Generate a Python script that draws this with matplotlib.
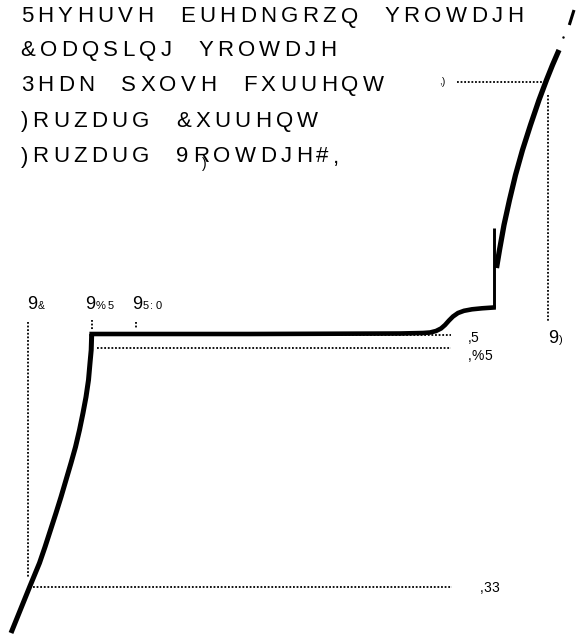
import matplotlib
matplotlib.use('Agg')
import matplotlib.pyplot as plt
from matplotlib.font_manager import FontProperties

# legend lines (text as it appears in the figure)
legend_lines = ['5HYHUVH EUHDNGRZQ YROWDJH',
                '&ODQSLQJ YROWDJH',
                '3HDN SXOVH FXUUHQW',
                ')RUZDUG &XUUHQW',
                ')RUZDUG 9ROWDJH#,']

# I-V curve, drawing units (x = voltage, y = current, y grows downward)
reverse_v = [91.7, 91.2, 90, 88.5, 86, 83, 79.5, 75.5, 71, 66, 61, 56, 50.5, 45, 39.5, 30, 11]
reverse_i = [334, 350, 363, 380, 397, 413, 430, 447, 463, 480, 497, 513, 530, 547, 563, 586, 633]
leak_v = [91.7, 250, 400, 423, 430, 436, 441, 445, 449, 453, 458, 464, 472, 482, 493.5]
leak_i = [334, 334, 333.5, 333, 332.5, 331, 328.5, 325, 320.5, 316.5, 313, 310.8, 309.3, 308.3, 307.5]
knee_v = [493.5, 493.5]
knee_i = [307.5, 228]
fwd_v = [496.5, 499.5, 504, 509.5, 515.5, 522.5, 530.5, 539, 546.5, 552.5, 559]
fwd_i = [268, 250, 225, 200, 175, 150, 125, 100, 80, 65, 50]
tip_v = [569.3, 574]
tip_i = [25, 10]

# reference levels
v_c, v_br, v_rwm, v_f = 27.7, 91.7, 136, 547.5
i_pp, i_br, i_r, i_f = 586.5, 347.5, 334.5, 81.7

W, H = 577, 636
fig = plt.figure(figsize=(W / 100, H / 100), dpi=100)
ax = fig.add_axes([0, 0, 1, 1])
ax.set_xlim(0, W)
ax.set_ylim(H, 0)
ax.axis('off')

renderer = fig.canvas.get_renderer()


def width(s, prop):
    if not s:
        return 0
    w1 = renderer.get_text_width_height_descent(s + 'I', prop, ismath=False)[0]
    w0 = renderer.get_text_width_height_descent('I', prop, ismath=False)[0]
    return w1 - w0


def tracked(x, y, s, size, track, space_extra=0):
    prop = FontProperties(family='Liberation Sans', size=size)
    nsp = 0
    for k, ch in enumerate(s):
        if ch == ' ':
            nsp += 1
            continue
        ax.text(x + width(s[:k], prop) + k * track + nsp * space_extra, y, ch,
                fontproperties=prop, ha='left', va='baseline', color='black')
    return x + width(s, prop) + len(s) * track + nsp * space_extra


def symbol(x, y, main, sub, size=13, sub_size=8, sub_track=2.0):
    end = tracked(x, y, main, size, 0)
    tracked(end + 0.5, y, sub, sub_size, sub_track)


baselines = [22.5, 56, 91, 127, 162.5]
for s, yb in zip(legend_lines, baselines):
    tracked(20.7, yb, s, 16, 4.3, 12)
ax.text(204, 164, ')', fontsize=10, family='Liberation Sans', ha='center', va='center')

# curve
ax.plot(reverse_v, reverse_i, color='black', lw=3.6, solid_capstyle='butt')
ax.plot(leak_v, leak_i, color='black', lw=3.3, solid_joinstyle='miter')
ax.plot(knee_v, knee_i, color='black', lw=2.1, solid_capstyle='butt')
ax.plot(fwd_v, fwd_i, color='black', lw=3.8, solid_capstyle='butt')
ax.plot(tip_v, tip_i, color='black', lw=2.2, solid_capstyle='butt')
ax.plot([563], [36.5], marker='.', ms=1.5, color='black')

# dotted guides
dot = dict(color='black', lw=1.3, ls=(0, (1, 1)))
ax.plot([v_c, v_c], [322, 578], **dot)
ax.plot([33, 452], [i_pp, i_pp], **dot)
ax.plot([v_br, v_br], [320, 330], **dot)
ax.plot([v_rwm, v_rwm], [321.7, 329], **dot)
ax.plot([92, 451], [i_r, i_r], **dot)
ax.plot([96.7, 451], [i_br, i_br], **dot)
ax.plot([456.7, 543], [i_f, i_f], **dot)
ax.plot([v_f, v_f], [95, 321], **dot)

# labels
symbol(26.7, 309.3, '9', '&', sub_size=7.5)
symbol(85, 309.3, '9', '%5')
symbol(131.7, 309.3, '9', '5:0')
symbol(548.3, 343.3, '9', ')', sub_size=8)
tracked(468, 341.5, ',5', 10, -1)
tracked(468, 360, ',%5', 10, 0)
tracked(480, 591.5, ',33', 10, 0)
tracked(439, 85, ',)', 7, 0)

fig.savefig('out.png', dpi=100)
